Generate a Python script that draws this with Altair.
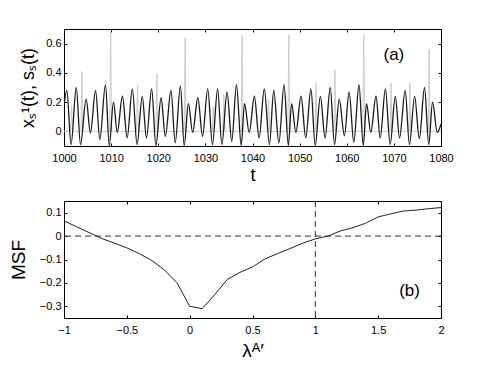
import altair as alt
import pandas as pd

FONT = "Liberation Sans"

# ---- panel (a): x_s^1(t), extrema ----
x_t = [1000.0, 1000.6, 1001.5, 1002.6, 1003.5, 1004.7, 1005.6, 1006.7, 1007.6, 1008.8,
       1009.6, 1010.5, 1011.3, 1012.4, 1013.4, 1014.5, 1015.5, 1016.6, 1017.5, 1018.6,
       1019.5, 1020.6, 1021.5, 1022.7, 1023.6, 1024.7, 1025.5, 1026.4, 1027.3, 1028.4,
       1029.4, 1030.5, 1031.5, 1032.6, 1033.5, 1034.6, 1035.6, 1036.6, 1037.6, 1038.3,
       1039.3, 1040.4, 1041.4, 1042.5, 1043.6, 1044.5, 1045.6, 1046.7, 1047.6, 1048.3,
       1049.2, 1050.3, 1051.3, 1052.4, 1053.3, 1054.4, 1055.4, 1056.5, 1057.4, 1058.4,
       1059.5, 1060.5, 1061.5, 1062.6, 1063.5, 1064.2, 1065.1, 1066.2, 1067.1, 1068.2,
       1069.2, 1070.3, 1071.2, 1072.4, 1073.3, 1074.4, 1075.4, 1076.5, 1077.4, 1078.2,
       1079.2, 1080.0]
x_v = [0.18, 0.28, -0.09, 0.30, -0.09, 0.22, -0.01, 0.28, -0.056, 0.32,
       -0.097, 0.20, -0.007, 0.24, -0.045, 0.29, -0.09, 0.24, -0.045, 0.29,
       -0.097, 0.23, -0.034, 0.28, -0.079, 0.31, -0.097, 0.19, -0.007, 0.23,
       -0.034, 0.29, -0.09, 0.29, -0.09, 0.27, -0.068, 0.32, -0.097, 0.19,
       -0.007, 0.24, -0.045, 0.29, -0.09, 0.28, -0.079, 0.32, -0.097, 0.19,
       -0.007, 0.24, -0.045, 0.29, -0.097, 0.24, -0.045, 0.30, -0.09, 0.22,
       -0.03, 0.27, -0.075, 0.32, -0.097, 0.19, -0.007, 0.24, -0.045, 0.29,
       -0.09, 0.24, -0.045, 0.28, -0.09, 0.24, -0.05, 0.30, -0.09, 0.20,
       -0.007, 0.05]

# ---- panel (a): s_s(t) spikes (time, height), baseline 0 ----
spike_t = [1001.6, 1003.8, 1009.9, 1015.6, 1019.7, 1025.7, 1031.7, 1033.9, 1037.8,
           1043.4, 1047.7, 1053.5, 1057.5, 1063.6, 1069.4, 1073.4, 1077.5]
spike_h = [0.18, 0.41, 0.68, 0.32, 0.39, 0.64, 0.17, 0.25, 0.66,
           0.22, 0.66, 0.33, 0.42, 0.66, 0.33, 0.33, 0.56]
spike_base = 0.0
spike_half_width = 0.2

# ---- panel (b): MSF vs lambda ----
lam = [-1.0, -0.9, -0.8, -0.7, -0.6, -0.5, -0.4, -0.3, -0.2, -0.1, 0.0,
       0.1, 0.2, 0.3, 0.4, 0.5, 0.6, 0.7, 0.8, 0.9, 1.0,
       1.1, 1.2, 1.3, 1.4, 1.5, 1.6, 1.7, 1.8, 1.9, 2.0]
msf = [0.065, 0.04, 0.015, -0.01, -0.03, -0.05, -0.075, -0.105, -0.145, -0.2, -0.3,
       -0.31, -0.25, -0.185, -0.155, -0.132, -0.097, -0.075, -0.053, -0.03, -0.012,
       0.0, 0.022, 0.036, 0.055, 0.082, 0.095, 0.107, 0.111, 0.117, 0.122]

xticks_a = [1000, 1010, 1020, 1030, 1040, 1050, 1060, 1070, 1080]
yticks_a = [0, 0.2, 0.4, 0.6]
xticks_b = [-1, -0.5, 0, 0.5, 1, 1.5, 2]
yticks_b = [-0.3, -0.2, -0.1, 0, 0.1]

df_x = pd.DataFrame({"t": x_t, "v": x_v})
rows = [(1000.0, spike_base)]
for t, h in zip(spike_t, spike_h):
    rows += [(t - spike_half_width, spike_base), (t, h), (t + spike_half_width, spike_base)]
rows.append((1080.0, spike_base))
df_s = pd.DataFrame(rows, columns=["t", "v"])
df_b = pd.DataFrame({"lam": lam, "msf": msf})

W, H = 377, 117

xs_a = alt.Scale(domain=[1000, 1080], nice=False, zero=False)
ys_a = alt.Scale(domain=[-0.1, 0.7], nice=False, zero=False)
xs_b = alt.Scale(domain=[-1, 2], nice=False, zero=False)
ys_b = alt.Scale(domain=[-0.35, 0.15], nice=False, zero=False)

gray = alt.Chart(df_s).mark_line(color="#cccccc", strokeWidth=1.0, clip=True).encode(
    x=alt.X("t:Q", scale=xs_a, axis=alt.Axis(orient="top", labels=False, title="", values=xticks_a)),
    y=alt.Y("v:Q", scale=ys_a, axis=alt.Axis(orient="right", labels=False, title="", values=yticks_a)),
)
black = alt.Chart(df_x).mark_line(color="#1a1a1a", strokeWidth=1.3, interpolate="monotone", clip=True).encode(
    x=alt.X("t:Q", scale=xs_a, axis=alt.Axis(orient="bottom", title="t", values=xticks_a,
                                             format="d", titlePadding=3, labelOverlap=False)),
    y=alt.Y("v:Q", scale=ys_a, axis=alt.Axis(orient="left", title="xₛ¹(t), sₛ(t)", values=yticks_a,
                                             format="~g", titlePadding=8)),
)
lab_a = alt.Chart(pd.DataFrame({"t": [1070.0], "v": [0.52], "s": ["(a)"]})).mark_text(
    font=FONT, fontSize=17, color="black", baseline="middle", align="center"
).encode(x=alt.X("t:Q", scale=xs_a, axis=None), y=alt.Y("v:Q", scale=ys_a, axis=None), text="s:N")

top = alt.layer(gray, black, lab_a).properties(width=W, height=H)

hline = alt.Chart(pd.DataFrame({"z": [0.0]})).mark_rule(color="#333333", strokeWidth=1, strokeDash=[6, 4]).encode(
    y=alt.Y("z:Q", scale=ys_b, axis=alt.Axis(orient="right", labels=False, title="", values=yticks_b))
)
vline = alt.Chart(pd.DataFrame({"o": [1.0]})).mark_rule(color="#333333", strokeWidth=1, strokeDash=[6, 4]).encode(
    x=alt.X("o:Q", scale=xs_b, axis=alt.Axis(orient="top", labels=False, title="", values=xticks_b))
)
msf_line = alt.Chart(df_b).mark_line(color="#222222", strokeWidth=1, clip=True).encode(
    x=alt.X("lam:Q", scale=xs_b, axis=alt.Axis(orient="bottom", title="λᴬ′", values=xticks_b,
                                               format="~g", titlePadding=6, titleFontSize=19,
                                               labelOverlap=False)),
    y=alt.Y("msf:Q", scale=ys_b, axis=alt.Axis(orient="left", title="MSF", values=yticks_b,
                                               format="~g", titlePadding=11, titleFontSize=19)),
)
lab_b = alt.Chart(pd.DataFrame({"lam": [1.75], "msf": [-0.235], "s": ["(b)"]})).mark_text(
    font=FONT, fontSize=17, color="black", baseline="middle", align="center"
).encode(x=alt.X("lam:Q", scale=xs_b, axis=None), y=alt.Y("msf:Q", scale=ys_b, axis=None), text="s:N")

bottom = alt.layer(hline, vline, msf_line, lab_b).properties(width=W, height=H)

chart = alt.vconcat(top, bottom, spacing=15).properties(
    padding={"left": 0, "top": 20, "right": 5, "bottom": 5}
).configure_view(
    stroke="black", strokeWidth=1
).configure_axis(
    domain=False, grid=False, offset=-3, tickSize=3, tickColor="black", tickWidth=1,
    labelFont=FONT, titleFont=FONT, labelFontSize=11, titleFontSize=18,
    titleFontWeight="normal", labelColor="black", titleColor="black", labelFlush=False,
).configure_axisX(labelPadding=6).configure_axisY(labelPadding=3)

chart.save("out.html", embed_options={"renderer": "svg", "actions": False})
